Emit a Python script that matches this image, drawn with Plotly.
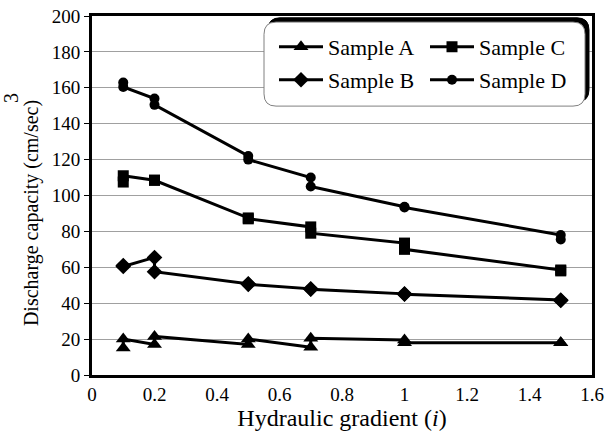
import plotly.graph_objects as go

gradient = [0.1, 0.1, 0.2, 0.2, 0.5, 0.5, 0.7, 0.7, 1.0, 1.0, 1.5, 1.5]
sample_a = [15, 20, 17, 21.5, 17, 20, 15.5, 20.5, 19.5, 18, 18, 18]
sample_b = [61, 60.5, 65.5, 57.5, 50.8, 50.5, 48, 47.8, 45.2, 45, 41.8, 41.5]
sample_c = [107.5, 111, 108.5, 108.5, 87.5, 87, 82.5, 79, 73.5, 70, 58.5, 58]
sample_d = [163, 160.5, 154, 150.5, 122, 120, 110, 105, 93.7, 93.3, 78, 75.5]

x_ticks = [0, 0.2, 0.4, 0.6, 0.8, 1.0, 1.2, 1.4, 1.6]
y_ticks = [0, 20, 40, 60, 80, 100, 120, 140, 160, 180, 200]

FONT = "Liberation Serif, Times New Roman, serif"

series = [
    ("Sample A", sample_a, "triangle-up", 13, "legend"),
    ("Sample C", sample_c, "square", 11, "legend"),
    ("Sample B", sample_b, "diamond", 12, "legend2"),
    ("Sample D", sample_d, "circle", 10, "legend2"),
]

fig = go.Figure()
for name, vals, sym, size, leg in series:
    fig.add_trace(go.Scatter(
        x=gradient, y=vals, name=name, mode="lines+markers",
        line=dict(color="black", width=3),
        marker=dict(symbol=sym, size=size, color="black"),
        legend=leg,
    ))

# legend box geometry in paper coordinates
x0, x1, y0, y1 = 0.344, 0.986, 0.749, 0.983
rx, ry = 0.024, 0.034
def rounded(x0, x1, y0, y1):
    return (f"M{x0+rx},{y1} L{x1-rx},{y1} Q{x1},{y1} {x1},{y1-ry} "
            f"L{x1},{y0+ry} Q{x1},{y0} {x1-rx},{y0} L{x0+rx},{y0} "
            f"Q{x0},{y0} {x0},{y0+ry} L{x0},{y1-ry} Q{x0},{y1} {x0+rx},{y1} Z")

dx, dy = 0.008, 0.012
fig.add_shape(type="path", xref="paper", yref="paper",
              path=rounded(x0 + dx, x1 + dx, y0 + dy, y1 + dy),
              fillcolor="black", line=dict(color="black", width=1), layer="above")
fig.add_shape(type="path", xref="paper", yref="paper",
              path=rounded(x0, x1, y0, y1),
              fillcolor="white", line=dict(color="#808080", width=1), layer="above")

leg_common = dict(orientation="h", bgcolor="rgba(0,0,0,0)", borderwidth=0,
                  font=dict(family=FONT, size=22, color="black"),
                  itemwidth=44,
                  entrywidth=92, entrywidthmode="pixels",
                  xanchor="left", yanchor="middle", x=0.364)

# superscript of the y-axis unit, drawn where the original places it
fig.add_annotation(text="3", xref="paper", yref="paper", x=-0.186, y=0.788,
                   showarrow=False, textangle=-90, borderpad=0,
                   font=dict(family=FONT, size=20, color="black"))

NB = "&nbsp;" * 7

fig.update_layout(
    width=606, height=438, autosize=False,
    margin=dict(l=92, r=14, t=16, b=63, autoexpand=False),
    paper_bgcolor="white", plot_bgcolor="white",
    font=dict(family=FONT, size=19, color="black"),
    showlegend=True,
    legend=dict(**leg_common, y=0.914),
    legend2=dict(**leg_common, y=0.822),
    xaxis=dict(
        range=[0, 1.6], tickvals=x_ticks, ticktext=[f"{v:g}" for v in x_ticks],
        showgrid=False, zeroline=False, automargin=False,
        showline=True, linecolor="black", linewidth=3, mirror=True,
        ticks="", ticklabeloverflow="allow",
        tickfont=dict(family=FONT, size=19),
        title=dict(text="Hydraulic gradient (<i>i</i>)", font=dict(family=FONT, size=24), standoff=0),
    ),
    yaxis=dict(
        range=[0, 200], tickvals=y_ticks,
        showgrid=True, gridcolor="#a0a0a0", gridwidth=1, zeroline=False, automargin=False,
        showline=True, linecolor="black", linewidth=3, mirror=True,
        ticks="outside", ticklen=5, tickcolor="black", ticklabeloverflow="allow",
        tickfont=dict(family=FONT, size=19),
        title=dict(text="Discharge capacity (cm/sec)" + NB, font=dict(family=FONT, size=20), standoff=8),
    ),
)

fig.write_html("out.html", config={"displayModeBar": False},
               post_script="document.body.style.margin='0px';")
